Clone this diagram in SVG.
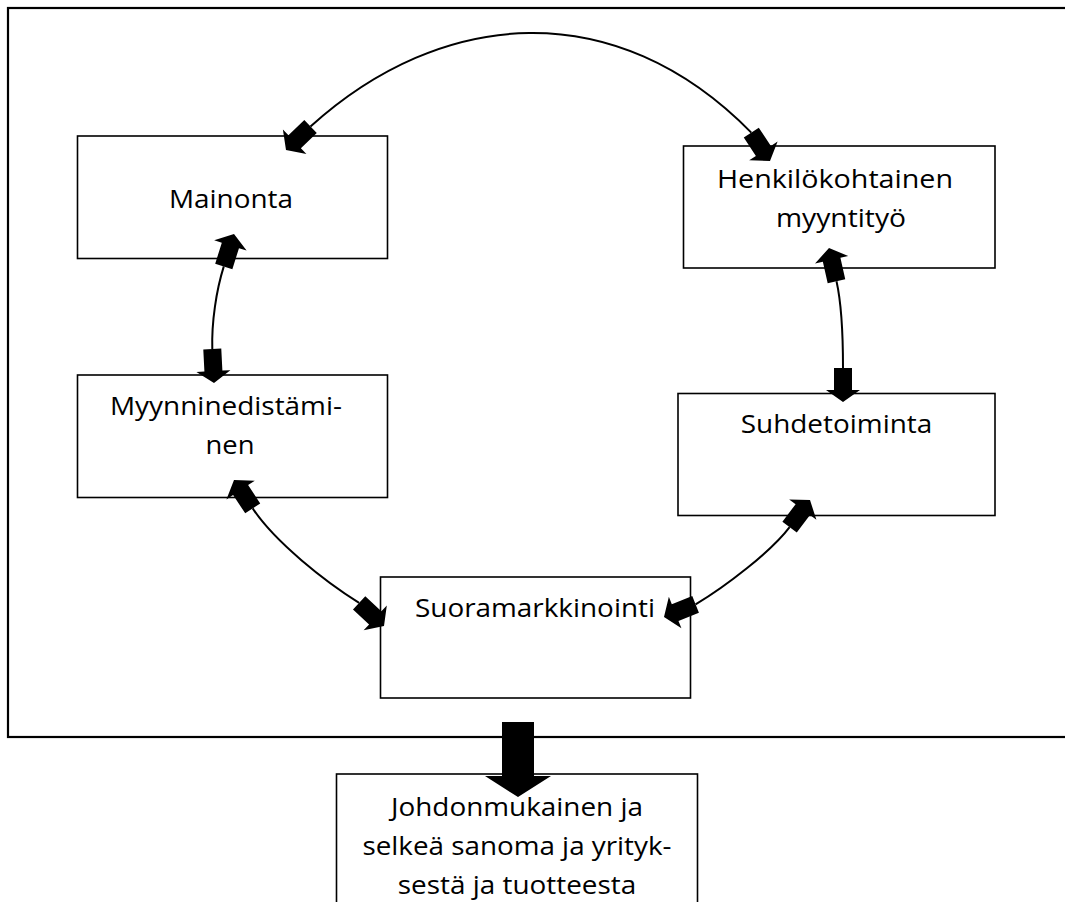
<svg xmlns="http://www.w3.org/2000/svg" xmlns:xlink="http://www.w3.org/1999/xlink" width="1065" height="902" viewBox="0 0 1065 902">
<style>
.box{fill:#fff;stroke:#000;stroke-width:1.6}
.frame{fill:none;stroke:#000;stroke-width:2.2}
.lbl{font-family:"Open Sans","Noto Sans","Liberation Sans",sans-serif;font-size:25px;fill:#000;text-anchor:middle}
.curve{fill:none;stroke:#000;stroke-width:2}
.ah{fill:#000}
</style>
<defs>
<polygon id="ah" class="ah" points="0,0 -12,-17 -12,-9 -34,-9 -34,9 -12,9 -12,17"/>
</defs>
<rect width="1065" height="902" fill="#fff"/>
<rect class="frame" x="8" y="8" width="1075" height="729"/>

<g id="node-mainonta">
<rect class="box" x="77.5" y="136" width="310" height="122.5"/>
<text class="lbl" x="231" y="208" textLength="124" lengthAdjust="spacingAndGlyphs">Mainonta</text>
</g>
<g id="node-henkilokohtainen">
<rect class="box" x="683.5" y="146" width="311.5" height="122"/>
<text class="lbl" x="835" y="188" textLength="236" lengthAdjust="spacingAndGlyphs">Henkilökohtainen</text>
<text class="lbl" x="841" y="227" textLength="130" lengthAdjust="spacingAndGlyphs">myyntityö</text>
</g>
<g id="node-myynninedistaminen">
<rect class="box" x="77.5" y="375" width="310" height="122.5"/>
<text class="lbl" x="226" y="415" textLength="232" lengthAdjust="spacingAndGlyphs">Myynninedistämi-</text>
<text class="lbl" x="230" y="454" textLength="49" lengthAdjust="spacingAndGlyphs">nen</text>
</g>
<g id="node-suhdetoiminta">
<rect class="box" x="678" y="393.5" width="317" height="122"/>
<text class="lbl" x="836.5" y="433" textLength="191.5" lengthAdjust="spacingAndGlyphs">Suhdetoiminta</text>
</g>
<g id="node-suoramarkkinointi">
<rect class="box" x="380.5" y="577" width="310" height="121"/>
<text class="lbl" x="535" y="617" textLength="240" lengthAdjust="spacingAndGlyphs">Suoramarkkinointi</text>
</g>
<g id="node-sanoma">
<rect class="box" x="336.5" y="774" width="361" height="140"/>
<text class="lbl" x="517" y="816" textLength="252" lengthAdjust="spacingAndGlyphs">Johdonmukainen ja</text>
<text class="lbl" x="517" y="855" textLength="309" lengthAdjust="spacingAndGlyphs">selkeä sanoma ja yrityk-</text>
<text class="lbl" x="517" y="894" textLength="238.5" lengthAdjust="spacingAndGlyphs">sestä ja tuotteesta</text>
</g>

<g id="connectors">
<!-- Mainonta <-> Henkilokohtainen -->
<path class="curve" d="M310.5,126.5 C441.6,7.8 615.2,-6.2 751.3,132.6"/>
<use xlink:href="#ah" href="#ah" transform="translate(286,150) rotate(136.2)"/>
<use xlink:href="#ah" href="#ah" transform="translate(770,161) rotate(56.6)"/>
<!-- Mainonta <-> Myynninedistaminen -->
<path class="curve" d="M212.3,349 C211.5,322 216.3,290.3 223.8,266.4"/>
<use xlink:href="#ah" href="#ah" transform="translate(234,234) rotate(-72.5)"/>
<use xlink:href="#ah" href="#ah" transform="translate(214,383) rotate(87.1)"/>
<!-- Henkilokohtainen <-> Suhdetoiminta -->
<path class="curve" d="M843,368 C843,345 842,305.6 836.5,281.2"/>
<use xlink:href="#ah" href="#ah" transform="translate(829,248) rotate(-102.7)"/>
<use xlink:href="#ah" href="#ah" transform="translate(843,402) rotate(90)"/>
<!-- Myynninedistaminen <-> Suoramarkkinointi -->
<path class="curve" d="M252.7,508.4 C274.7,541.8 325.1,581.6 359.1,602.8"/>
<use xlink:href="#ah" href="#ah" transform="translate(234,480) rotate(-123.4)"/>
<use xlink:href="#ah" href="#ah" transform="translate(384,626) rotate(43)"/>
<!-- Suhdetoiminta <-> Suoramarkkinointi -->
<path class="curve" d="M695.6,604.4 C725.7,586.5 771.6,551.2 789.6,527.2"/>
<use xlink:href="#ah" href="#ah" transform="translate(810,500) rotate(-53.1)"/>
<use xlink:href="#ah" href="#ah" transform="translate(664,617) rotate(158.3)"/>
<!-- frame -> sanoma -->
<polygon class="ah" points="502,722 534,722 534,776 551,776 518,797 485,776 502,776"/>
</g>
</svg>
